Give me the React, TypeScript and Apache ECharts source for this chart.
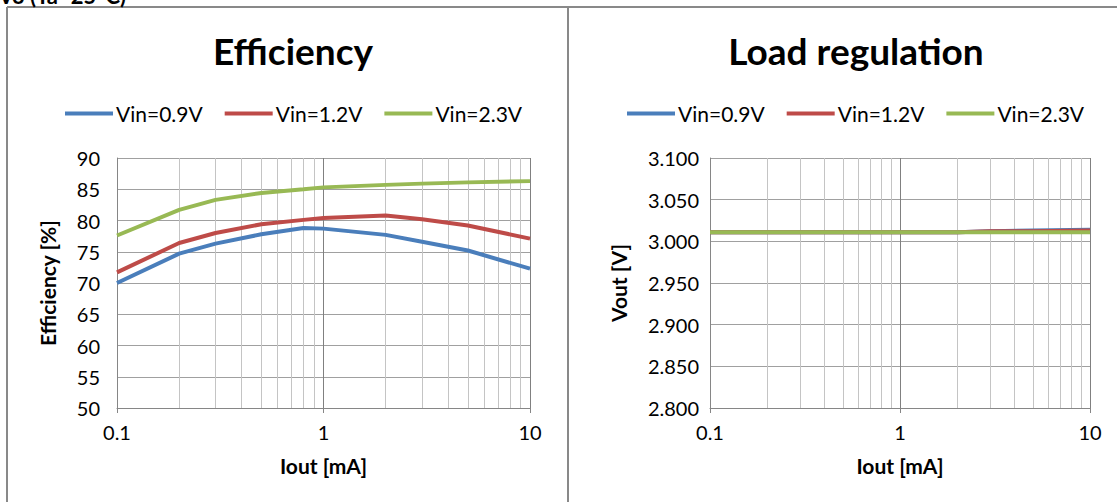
import React, { useEffect, useRef } from "react";
import * as echarts from "echarts";

const iEff = [0.1, 0.2, 0.3, 0.5, 0.8, 1, 2, 3, 5, 10];
const eff09 = [70.0, 74.7, 76.3, 77.8, 78.8, 78.7, 77.7, 76.6, 75.2, 72.3];
const eff12 = [71.7, 76.4, 78.0, 79.4, 80.1, 80.4, 80.8, 80.2, 79.2, 77.1];
const eff23 = [77.6, 81.7, 83.3, 84.4, 85.0, 85.3, 85.7, 85.9, 86.1, 86.3];

const iReg = [0.1, 0.2, 0.5, 1, 2, 3, 5, 10];
const vout09 = [3.011, 3.011, 3.011, 3.011, 3.011, 3.012, 3.013, 3.014];
const vout12 = [3.011, 3.011, 3.011, 3.011, 3.011, 3.012, 3.012, 3.013];
const vout23 = [3.011, 3.011, 3.011, 3.011, 3.011, 3.011, 3.011, 3.011];

const seriesNames = ["Vin=0.9V", "Vin=1.2V", "Vin=2.3V"];
const seriesColors = ["#4A7EBB", "#BE4B48", "#98B954"];
const minorGrid = [0.2, 0.3, 0.4, 0.5, 0.6, 0.7, 0.8, 0.9, 2, 3, 4, 5, 6, 7, 8, 9];
const xTickLabels: Record<string, string> = { "0.1": "0.1", "1": "1", "10": "10" };

const FONT = "Lato";

export default function App() {
  const ref = useRef<HTMLDivElement>(null);
  useEffect(() => {
    document.body.style.margin = "0";
    const chart = echarts.init(ref.current!, null, { renderer: "svg" });
    const zip = (xs: number[], ys: number[]) => xs.map((x, i) => [x, ys[i]]);
    const xAxisBase = (gridIndex: number) => ({
      type: "log",
      logBase: 10,
      gridIndex,
      min: 0.1,
      max: 10,
      name: "Iout [mA]",
      nameLocation: "middle",
      nameGap: 47,
      nameTextStyle: { fontFamily: FONT, fontWeight: "bold", fontSize: 21, color: "#000" },
      axisLine: { show: true, lineStyle: { color: "#868686", width: 1 } },
      axisTick: { show: true, length: 5, lineStyle: { color: "#868686" } },
      axisLabel: {
        fontFamily: FONT,
        fontSize: 20,
        color: "#000",
        margin: 14,
        formatter: (v: number) => xTickLabels[String(+v.toPrecision(3))] ?? "",
      },
      splitLine: { show: true, lineStyle: { color: "#808080", width: 1 } },
    });
    const minorSeries = (xAxisIndex: number, yAxisIndex: number) => ({
      type: "line",
      name: "minor" + xAxisIndex,
      xAxisIndex,
      yAxisIndex,
      data: [],
      z: 1,
      silent: true,
      markLine: {
        silent: true,
        symbol: "none",
        label: { show: false },
        lineStyle: { color: "#c4c4c4", width: 1, type: "solid" },
        data: minorGrid.map((v) => ({ xAxis: v })),
      },
    });
    const lineSeries = (name: string, color: string, data: number[][], xAxisIndex: number) => ({
      type: "line",
      name,
      xAxisIndex,
      yAxisIndex: xAxisIndex,
      data,
      symbol: "none",
      smooth: false,
      z: 5,
      lineStyle: { color, width: 4 },
      itemStyle: { color },
    });
    const legendBase = (left: number) => ({
      left,
      top: 98,
      itemWidth: 48,
      itemHeight: 14,
      itemGap: 22,
      icon: "path://M0,0 L48,0 L48,4 L0,4 Z",
      data: seriesNames,
      textStyle: { fontFamily: FONT, fontSize: 21, color: "#000", padding: [0, 0, 0, -2] },
    });

    chart.setOption({
      animation: false,
      backgroundColor: "#fff",
      textStyle: { fontFamily: FONT },
      title: [
        {
          text: "Efficiency",
          left: 288,
          top: 27,
          textAlign: "center",
          textStyle: { fontFamily: FONT, fontSize: 37, fontWeight: "bold", color: "#000" },
        },
        {
          text: "Load regulation",
          left: 851,
          top: 27,
          textAlign: "center",
          textStyle: { fontFamily: FONT, fontSize: 37, fontWeight: "bold", color: "#000" },
        },
      ],
      legend: [
        { ...legendBase(60), id: "l0" },
        { ...legendBase(622), id: "l1" },
      ],
      grid: [
        { left: 117, width: 413, top: 158, height: 250 },
        { left: 710, width: 380, top: 158, height: 250 },
      ],
      xAxis: [xAxisBase(0), xAxisBase(1)],
      yAxis: [
        {
          type: "value",
          gridIndex: 0,
          min: 50,
          max: 90,
          interval: 5,
          name: "Efficiency [%]",
          nameLocation: "middle",
          nameGap: 59,
          nameTextStyle: { fontFamily: FONT, fontWeight: "bold", fontSize: 21, color: "#000" },
          axisLine: { show: true, lineStyle: { color: "#868686" } },
          axisTick: { show: false },
          axisLabel: { fontFamily: FONT, fontSize: 20, color: "#000", margin: 17 },
          splitLine: { show: true, lineStyle: { color: "#a0a0a0", width: 1 } },
        },
        {
          type: "value",
          gridIndex: 1,
          min: 2.8,
          max: 3.1,
          interval: 0.05,
          name: "Vout [V]",
          nameLocation: "middle",
          nameGap: 81,
          nameTextStyle: { fontFamily: FONT, fontWeight: "bold", fontSize: 21, color: "#000" },
          axisLine: { show: true, lineStyle: { color: "#868686" } },
          axisTick: { show: false },
          axisLabel: {
            fontFamily: FONT,
            fontSize: 20,
            color: "#000",
            margin: 11,
            formatter: (v: number) => v.toFixed(3),
          },
          splitLine: { show: true, lineStyle: { color: "#a0a0a0", width: 1 } },
        },
      ],
      series: [
        minorSeries(0, 0),
        minorSeries(1, 1),
        lineSeries(seriesNames[0], seriesColors[0], zip(iEff, eff09), 0),
        lineSeries(seriesNames[1], seriesColors[1], zip(iEff, eff12), 0),
        lineSeries(seriesNames[2], seriesColors[2], zip(iEff, eff23), 0),
        lineSeries(seriesNames[0], seriesColors[0], zip(iReg, vout09), 1),
        lineSeries(seriesNames[1], seriesColors[1], zip(iReg, vout12), 1),
        lineSeries(seriesNames[2], seriesColors[2], zip(iReg, vout23), 1),
      ],
      graphic: [
        { type: "line", shape: { x1: 7, y1: 7, x2: 1117, y2: 7 }, style: { stroke: "#898989", lineWidth: 2 } },
        { type: "line", shape: { x1: 7, y1: 7, x2: 7, y2: 502 }, style: { stroke: "#898989", lineWidth: 2 } },
        { type: "line", shape: { x1: 568, y1: 7, x2: 568, y2: 502 }, style: { stroke: "#898989", lineWidth: 2 } },
        {
          type: "text",
          x: 126,
          y: 6,
          style: {
            text: "Vo (Ta=25°C)",
            fontFamily: FONT,
            fontSize: 22,
            fontWeight: "bold",
            fill: "#000",
            textAlign: "right",
            textVerticalAlign: "bottom",
          },
        },
      ],
    });
    return () => chart.dispose();
  }, []);
  return <div ref={ref} style={{ position: "fixed", left: 0, top: 0, width: 1117, height: 502 }} />;
}
